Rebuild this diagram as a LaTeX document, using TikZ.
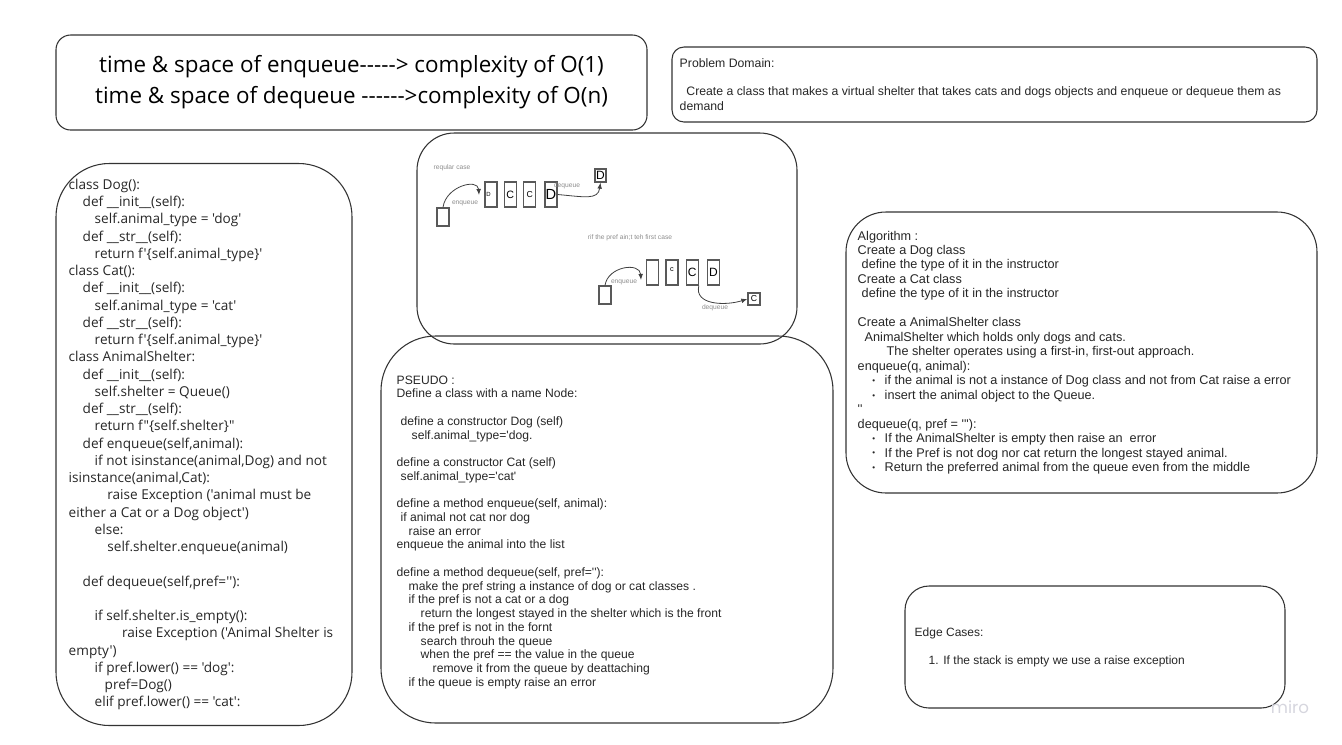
\documentclass[tikz,border=0pt]{standalone}
\usepackage{fontspec}
\newfontfamily\arial{Liberation Sans}
\newfontfamily\opensans{Open Sans}
\newfontfamily\logofont{Poppins}
\usetikzlibrary{arrows.meta,calc,positioning}
\definecolor{miroGray}{RGB}{214,214,222}

\begin{document}
\begin{tikzpicture}[x=0.75pt,y=-0.75pt,>=Latex,
  panel/.style={draw=black!80,line width=0.8pt},
  cell/.style={draw=black!65,line width=1pt,minimum width=9pt,minimum height=18.75pt,inner sep=0pt,font=\arial\fontsize{7}{7}\selectfont},
  smalltext/.style={text=black!45,font=\arial\fontsize{5}{6}\selectfont,inner sep=0pt},
  flow/.style={-{Latex[length=4.5pt,width=3.5pt]},draw=black!75,line width=0.6pt}]
  \useasboundingbox (0,0) rectangle (1342,744);

  % complexity and problem domain
  \node[panel,rounded corners=11pt,minimum width=443.25pt,minimum height=71.25pt,align=center,font=\opensans\fontsize{16.8}{23.25}\selectfont] (cplx) at (351.5,82.5) {time \& space of enqueue-----> complexity of O(1)\\time \& space of dequeue ------>complexity of O(n)};
  \node[panel,rounded corners=9pt,minimum width=483.75pt,minimum height=56.25pt] (domain) at (994.5,84.5) {};
  \node[right=6pt of domain.west,align=left,inner sep=0pt,font=\arial\fontsize{9.2}{10.6}\selectfont,text=black!85] (domaintxt) {Problem Domain:\\[10.6pt]\hspace*{5pt}Create a class that makes a virtual shelter that takes cats and dogs objects and enqueue or dequeue them as\\demand};

  % code
  \node[panel,rounded corners=40pt,minimum width=222pt,minimum height=421.5pt] (code) at (204,444.5) {};
  \node[right=9.75pt of code.west,align=left,inner sep=0pt,font=\opensans\fontsize{10.2}{12.94}\selectfont,text=black!85] (codetxt) {class Dog():\\
\hspace*{10.5pt}def \_\_init\_\_(self):\\
\hspace*{19.5pt}self.animal\_type = 'dog'\\
\hspace*{10.5pt}def \_\_str\_\_(self):\\
\hspace*{19.5pt}return f'\{self.animal\_type\}'\\
class Cat():\\
\hspace*{10.5pt}def \_\_init\_\_(self):\\
\hspace*{19.5pt}self.animal\_type = 'cat'\\
\hspace*{10.5pt}def \_\_str\_\_(self):\\
\hspace*{19.5pt}return f'\{self.animal\_type\}'\\
class AnimalShelter:\\
\hspace*{10.5pt}def \_\_init\_\_(self):\\
\hspace*{19.5pt}self.shelter = Queue()\\
\hspace*{10.5pt}def \_\_str\_\_(self):\\
\hspace*{19.5pt}return f"\{self.shelter\}"\\
\hspace*{10.5pt}def enqueue(self,animal):\\
\hspace*{19.5pt}if not isinstance(animal,Dog) and not\\
isinstance(animal,Cat):\\
\hspace*{29pt}raise Exception ('animal must be\\
either a Cat or a Dog object')\\
\hspace*{19.5pt}else:\\
\hspace*{29pt}self.shelter.enqueue(animal)\\[12.94pt]
\hspace*{10.5pt}def dequeue(self,pref=''):\\[12.94pt]
\hspace*{19.5pt}if self.shelter.is\_empty():\\
\hspace*{40pt}raise Exception ('Animal Shelter is\\
empty')\\
\hspace*{19.5pt}if pref.lower() == 'dog':\\
\hspace*{27pt}pref=Dog()\\
\hspace*{19.5pt}elif pref.lower() == 'cat':};

  % queue sketch
  \node[panel,rounded corners=28pt,minimum width=285pt,minimum height=158.25pt] (sketch) at (607,238.5) {};
  \node[smalltext] (regular) at (452,168) {reqular case};
  \node[cell,minimum height=13.5pt] (e1) at (443,217) {};
  \node[cell] (q1) at (491,194.5) {\fontsize{4.5}{5}\selectfont\makebox[7pt][l]{D}};
  \node[cell,right=4.5pt of q1] (q2) {\raisebox{-3pt}{\fontsize{8}{8}\selectfont C}};
  \node[cell,right=4.5pt of q2] (q3) {\fontsize{6.5}{7}\selectfont C};
  \node[cell,right=6pt of q3] (q4) {\fontsize{11}{11}\selectfont D};
  \node[cell,minimum width=8.25pt,minimum height=9.75pt,font=\arial\fontsize{9}{9}\selectfont] (outd) at (600.5,175.5) {D};
  \coordinate (in1) at (479,195);
  \draw[flow] (e1.north) .. controls (446,186) and (478,178) .. (in1);
  \draw[flow] (q4.east) .. controls (585,197) and (598,200) .. (outd.south);
  \node[smalltext] (enq1) at (465,203) {enqueue};
  \node[smalltext] (deq1) at (567,186) {dequeue};

  \node[smalltext] (case2) at (630,238) {rif the pref ain;t teh first case};
  \node[cell,minimum height=13.5pt] (e2) at (605,295) {};
  \node[cell] (r1) at (652.5,272.5) {};
  \node[cell,right=4.5pt of r1] (r2) {\raisebox{4pt}{\fontsize{5.5}{6}\selectfont c}};
  \node[cell,right=5.25pt of r2] (r3) {\fontsize{9}{9}\selectfont C};
  \node[cell,right=6pt of r3] (r4) {\fontsize{9}{9}\selectfont D};
  \node[cell,minimum width=9pt,minimum height=9pt,font=\arial\fontsize{6.5}{7}\selectfont] (outc) at (754,299) {C};
  \coordinate (in2) at (641,280);
  \draw[flow] (e2.north) .. controls (608,266) and (640,262) .. (in2);
  \draw[flow] (r3.south east) .. controls (694,305) and (725,306) .. (outc.west);
  \node[smalltext] (enq2) at (624,282) {enqueue};
  \node[smalltext] (deq2) at (715,308) {dequeue};

  % pseudo code
  \node[panel,rounded corners=41pt,minimum width=339pt,minimum height=290.25pt] (pseudo) at (607,529.5) {};
  \node[right=12pt of pseudo.west,yshift=-2pt,align=left,inner sep=0pt,font=\arial\fontsize{9.1}{10.3}\selectfont,text=black!85] (pseudotxt) {PSEUDO :\\
Define a class with a name Node:\\[10.3pt]
\hspace*{3pt}define a constructor Dog (self)\\
\hspace*{11.25pt}self.animal\_type='dog.\\[10.3pt]
define a constructor Cat (self)\\
\hspace*{3pt}self.animal\_type='cat'\\[10.3pt]
define a method enqueue(self, animal):\\
\hspace*{3pt}if animal not cat nor dog\\
\hspace*{9pt}raise an error\\
enqueue the animal into the list\\[10.3pt]
define a method dequeue(self, pref=''):\\
\hspace*{9pt}make the pref string a instance of dog or cat classes .\\
\hspace*{9pt}if the pref is not a cat or a dog\\
\hspace*{18pt}return the longest stayed in the shelter which is the front\\
\hspace*{9pt}if the pref is not in the fornt\\
\hspace*{18pt}search throuh the queue\\
\hspace*{18pt}when the pref == the value in the queue\\
\hspace*{27pt}remove it from the queue by deattaching\\
\hspace*{9pt}if the queue is empty raise an error};

  % algorithm
  \node[panel,rounded corners=30pt,minimum width=353.25pt,minimum height=210.75pt] (algo) at (1081.5,352.5) {};
  \node[right=9pt of algo.west,align=left,inner sep=0pt,font=\arial\fontsize{9.5}{10.85}\selectfont,text=black!85] (algotxt) {Algorithm :\\
Create a Dog class\\
\hspace*{3pt}define the type of it in the instructor\\
Create a Cat class\\
\hspace*{3pt}define the type of it in the instructor\\[10.85pt]
Create a AnimalShelter class\\
\hspace*{5.25pt}AnimalShelter which holds only dogs and cats.\\
\hspace*{21.75pt}The shelter operates using a first-in, first-out approach.\\
enqueue(q, animal):\\
\hspace*{11pt}\makebox[9.25pt][l]{\raisebox{0.8pt}{\fontsize{6}{6}\selectfont\textbullet}}if the animal is not a instance of Dog class and not from Cat raise a error\\
\hspace*{11pt}\makebox[9.25pt][l]{\raisebox{0.8pt}{\fontsize{6}{6}\selectfont\textbullet}}insert the animal object to the Queue.\\
''\\
dequeue(q, pref = '''):\\
\hspace*{11pt}\makebox[9.25pt][l]{\raisebox{0.8pt}{\fontsize{6}{6}\selectfont\textbullet}}If the AnimalShelter is empty then raise an\ \ error\\
\hspace*{11pt}\makebox[9.25pt][l]{\raisebox{0.8pt}{\fontsize{6}{6}\selectfont\textbullet}}If the Pref is not dog nor cat return the longest stayed animal.\\
\hspace*{11pt}\makebox[9.25pt][l]{\raisebox{0.8pt}{\fontsize{6}{6}\selectfont\textbullet}}Return the preferred animal from the queue even from the middle};

  % edge cases
  \node[panel,rounded corners=18pt,minimum width=285pt,minimum height=91.5pt] (edge) at (1095,647) {};
  \node[right=7.5pt of edge.west,align=left,inner sep=0pt,font=\arial\fontsize{9}{10.5}\selectfont,text=black!85] (edgetxt) {Edge Cases:\\[10.5pt]
\hspace*{10.5pt}1.\hspace*{3.5pt}If the stack is empty we use a raise exception};

  \node[font=\logofont\fontsize{12.5}{13}\selectfont,text=miroGray,inner sep=0pt] (miro) at (1290,707) {miro};
\end{tikzpicture}
\end{document}
